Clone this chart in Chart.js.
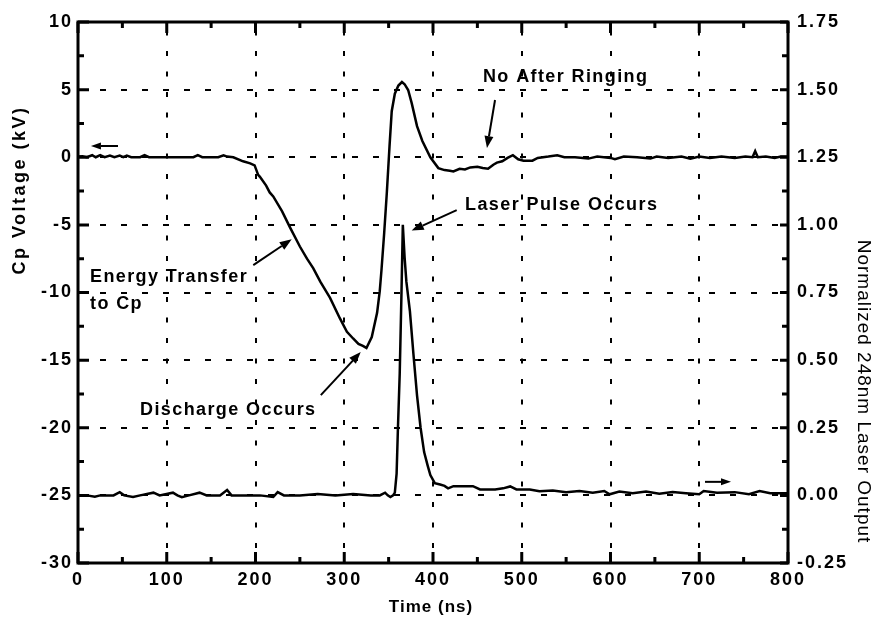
<!DOCTYPE html>
<html><head><meta charset="utf-8">
<script src="https://cdn.jsdelivr.net/npm/chart.js@4"></script>
<style>html,body{margin:0;padding:0;background:#fff}canvas{display:block}</style>
</head><body>
<canvas id="c" width="872" height="631"></canvas>
<script>
// ---- data ----
const voltTime = [0,5,10,16,20,25,30,36,41,47,51,55,60,70,75,80,100,120,130,135,140,158,164,168,175,186,194,199,203,205,212,216,220,230,239,250,258,265,273,284,295,303,310,316,321,325,331,337,340,342,345,348,351,353.5,357,361,365,368,372,376,382,388,397,406,413,419,423,430,436,442,450,456,462,468,472,478,484,490,496,502,512,518,530,540,548,560,575,585,600,605,615,630,645,652,665,680,690,700,712,725,740,752,760,763,766,775,785,792,800];
const voltValue = [0.05,0.08,0.0,0.15,0.0,0.15,0.0,0.12,0.0,0.12,0.0,0.12,0.0,0.0,0.15,0.0,0.0,0.0,0.0,0.15,0.0,0.0,0.15,0.05,0.0,-0.3,-0.45,-0.6,-1.3,-1.45,-2.1,-2.6,-2.9,-4.0,-5.2,-6.6,-7.5,-8.2,-9.2,-10.4,-11.9,-12.9,-13.4,-13.8,-13.95,-14.1,-13.3,-11.5,-9.9,-8.3,-5.6,-2.6,0.8,3.4,4.7,5.3,5.56,5.4,4.97,4.0,2.3,1.2,0.0,-0.8,-0.95,-1.0,-1.05,-0.85,-0.9,-0.75,-0.7,-0.8,-0.85,-0.55,-0.4,-0.3,-0.05,0.15,-0.15,-0.25,-0.25,-0.05,0.05,0.15,0.0,0.0,-0.1,0.05,-0.05,-0.15,0.05,0.0,-0.1,0.05,-0.05,0.05,-0.1,0.05,-0.05,0.05,-0.05,0.05,0.0,0.45,0.0,0.05,-0.05,0.05,0.05];

const laserTime = [0,10,19,25,40,47,52,62,70,85,92,107,112,117,125,137,145,160,168,173,190,205,220,225,232,250,270,290,310,330,340,346,349,352,355,357,359,360.5,362.5,364.5,366,368,370,374,378,382,386,390,394,397,402,408,413,417,423,445,453,470,479,487,494,509,520,535,550,565,580,593,599,610,625,640,655,670,685,700,705,720,740,756,768,780,800];
const laserValue = [0.0,0.0,-0.005,0.0,0.0,0.012,0.0,-0.006,0.0,0.01,0.0,0.01,0.0,-0.007,0.0,0.01,0.0,0.0,0.02,0.0,0.0,0.0,-0.006,0.012,0.0,0.0,0.005,0.0,0.005,0.0,0.0,0.01,0.0,-0.006,0.0,0.01,0.08,0.25,0.45,0.75,1.0,0.88,0.79,0.68,0.52,0.37,0.25,0.16,0.11,0.075,0.045,0.04,0.035,0.026,0.034,0.034,0.022,0.022,0.026,0.033,0.022,0.022,0.015,0.018,0.012,0.016,0.01,0.016,0.004,0.014,0.008,0.014,0.006,0.012,0.008,0.004,0.016,0.01,0.012,0.004,0.016,0.008,0.008];

const xTickLabels  = ['0','100','200','300','400','500','600','700','800'];
const yTickLabels  = ['-30','-25','-20','-15','-10','-5','0','5','10'];
const y2TickLabels = ['-0.25','0.00','0.25','0.50','0.75','1.00','1.25','1.50','1.75'];

const xTitle = 'Time (ns)';
const yTitle = 'Cp Voltage (kV)';
const y2Title = 'Normalized 248nm Laser Output';

// annotations (in data units: ns, kV)
const noteText = ['No After Ringing','Laser Pulse Occurs','Energy Transfer','to Cp','Discharge Occurs'];
const noteAt = [[456.3,5.56],[436.1,-3.91],[13.5,-9.25],[13.5,-11.23],[69.9,-19.07]];
const arrowsAt = [
  [[469.9,4.23],[460.8,0.68]],
  [[426.7,-3.91],[376.0,-5.42]],
  [[197.5,-7.97],[240.8,-6.07]],
  [[273.6,-17.59],[318.6,-14.4]],
  [[45.1,0.83],[14.6,0.83]],
  [[706.5,-24.0],[735.8,-24.0]]
];

const FAM = '"Liberation Sans", Arial, Helvetica, sans-serif';

function arrow(ctx, x1, y1, x2, y2, head, half) {
  const a = Math.atan2(y2 - y1, x2 - x1);
  const bx = x2 - head * Math.cos(a), by = y2 - head * Math.sin(a);
  ctx.beginPath(); ctx.moveTo(x1, y1); ctx.lineTo(bx, by); ctx.stroke();
  ctx.beginPath(); ctx.moveTo(x2, y2);
  ctx.lineTo(bx + half * Math.sin(a), by - half * Math.cos(a));
  ctx.lineTo(bx - half * Math.sin(a), by + half * Math.cos(a));
  ctx.closePath(); ctx.fill();
}

const decor = {
  id: 'decor',
  beforeDraw(chart) { chart.ctx.letterSpacing = '2px'; },
  afterDraw(chart) {
    const {ctx, chartArea: a, scales: {x, y, y2}} = chart;
    ctx.save();
    ctx.letterSpacing = '0px';
    ctx.strokeStyle = '#000'; ctx.fillStyle = '#000';
    // frame
    ctx.lineWidth = 3;
    ctx.strokeRect(a.left, a.top, a.right - a.left, a.bottom - a.top);
    // inward ticks
    ctx.beginPath();
    const xv = xTickLabels.map(Number);
    xv.forEach((v, i) => {
      const p = x.getPixelForValue(v);
      ctx.moveTo(p, a.bottom); ctx.lineTo(p, a.bottom - 11);
      ctx.moveTo(p, a.top); ctx.lineTo(p, a.top + 11);
      if (i < xv.length - 1) {
        const m = x.getPixelForValue((v + xv[i + 1]) / 2);
        ctx.moveTo(m, a.bottom); ctx.lineTo(m, a.bottom - 6);
        ctx.moveTo(m, a.top); ctx.lineTo(m, a.top + 6);
      }
    });
    const yv = yTickLabels.map(Number);
    yv.forEach((v, i) => {
      const p = y.getPixelForValue(v);
      ctx.moveTo(a.left, p); ctx.lineTo(a.left + 11, p);
      if (i < yv.length - 1) {
        const m = y.getPixelForValue((v + yv[i + 1]) / 2);
        ctx.moveTo(a.left, m); ctx.lineTo(a.left + 6, m);
      }
    });
    const y2v = y2TickLabels.map(Number);
    y2v.forEach((v, i) => {
      const p = y2.getPixelForValue(v);
      ctx.moveTo(a.right, p); ctx.lineTo(a.right - 8, p);
      if (i < y2v.length - 1) {
        const m = y2.getPixelForValue((v + y2v[i + 1]) / 2);
        ctx.moveTo(a.right, m); ctx.lineTo(a.right - 6, m);
      }
    });
    ctx.stroke();

    // axis titles
    ctx.textAlign = 'center'; ctx.textBaseline = 'middle';
    ctx.font = 'bold 17px ' + FAM; ctx.letterSpacing = '1px';
    ctx.fillText(xTitle, (a.left + a.right) / 2 - 2, 607);
    ctx.save();
    ctx.translate(20, 190); ctx.rotate(-Math.PI / 2);
    ctx.font = 'bold 18px ' + FAM; ctx.letterSpacing = '2.5px';
    ctx.fillText(yTitle, 0, 0);
    ctx.restore();
    ctx.save();
    ctx.translate(863, 391.5); ctx.rotate(Math.PI / 2);
    ctx.font = '19px ' + FAM; ctx.letterSpacing = '1px';
    ctx.fillText(y2Title, 0, 0);
    ctx.restore();

    // annotations
    ctx.textAlign = 'left'; ctx.textBaseline = 'alphabetic';
    ctx.font = 'bold 18px ' + FAM; ctx.letterSpacing = '1.4px';
    noteText.forEach((t, i) => {
      ctx.fillText(t, x.getPixelForValue(noteAt[i][0]), y.getPixelForValue(noteAt[i][1]));
    });
    ctx.lineWidth = 2;
    arrowsAt.forEach(([s, e], i) => {
      const small = i >= 4;
      arrow(ctx, x.getPixelForValue(s[0]), y.getPixelForValue(s[1]),
                 x.getPixelForValue(e[0]), y.getPixelForValue(e[1]),
                 small ? 10 : 12, small ? 3.5 : 4.5);
    });
    ctx.restore();
  }
};

const tickFont = {family: FAM, size: 18, weight: 'bold'};

new Chart(document.getElementById('c'), {
  type: 'line',
  data: {
    datasets: [
      {data: voltTime.map((t, i) => ({x: t, y: voltValue[i]})), yAxisID: 'y',
       borderColor: '#000', borderWidth: 2.5, pointRadius: 0, tension: 0, fill: false},
      {data: laserTime.map((t, i) => ({x: t, y: laserValue[i]})), yAxisID: 'y2',
       borderColor: '#000', borderWidth: 2.5, pointRadius: 0, tension: 0, fill: false}
    ]
  },
  options: {
    responsive: false, animation: false, devicePixelRatio: 1,
    layout: {padding: {top: 22, left: 0, right: 0, bottom: 0}},
    plugins: {legend: {display: false}, tooltip: {enabled: false}},
    scales: {
      x: {
        type: 'linear', position: 'bottom', min: 0, max: 800,
        afterFit: s => { s.height = 68; },
        afterBuildTicks: s => { s.ticks = xTickLabels.map(v => ({value: Number(v)})); },
        ticks: {callback: (v, i) => xTickLabels[i], font: tickFont, color: '#000', padding: 6, maxRotation: 0, autoSkip: false},
        grid: {color: '#000', lineWidth: 2, drawTicks: false},
        border: {display: false, dash: [5, 15.5], dashOffset: 12}
      },
      y: {
        type: 'linear', position: 'left', min: -30, max: 10,
        afterFit: s => { s.width = 78; },
        afterBuildTicks: s => { s.ticks = yTickLabels.map(v => ({value: Number(v)})); },
        ticks: {callback: (v, i) => yTickLabels[i], font: tickFont, color: '#000', padding: 5, autoSkip: false},
        grid: {color: '#000', lineWidth: 2, drawTicks: false},
        border: {display: false, dash: [6, 15], dashOffset: 20}
      },
      y2: {
        type: 'linear', position: 'right', min: -0.25, max: 1.75,
        afterFit: s => { s.width = 84; },
        afterBuildTicks: s => { s.ticks = y2TickLabels.map(v => ({value: Number(v)})); },
        ticks: {callback: (v, i) => y2TickLabels[i], font: tickFont, color: '#000', padding: 9, autoSkip: false},
        grid: {display: false, drawTicks: false},
        border: {display: false}
      }
    }
  },
  plugins: [decor]
});
</script>
</body></html>
